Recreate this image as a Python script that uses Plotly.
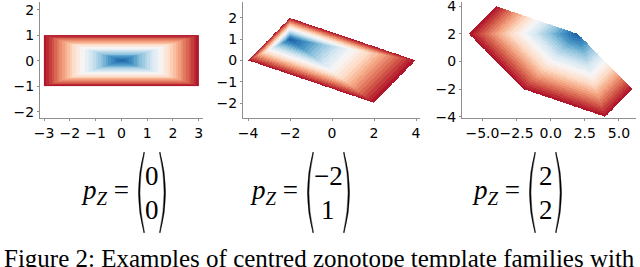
import numpy as np
import plotly.graph_objects as go

# ---- data: polygon vertices (counter-clockwise) and the point p_Z ----
rect_x = [-3, 3, 3, -3]
rect_y = [-1, -1, 1, 1]
p1 = [0, 0]

para_x = [2, 4, -2, -4]
para_y = [-2, 0, 2, 0]
p2 = [-2, 1]

hex_x = [4, 6, 2, -4, -6, -2]
hex_y = [-4, -2, 2, 4, 2, -2]
p3 = [2, 2]

p_labels = [["0", "0"], ["−2", "1"], ["2", "2"]]
caption = "Figure 2: Examples of centred zonotope template families with"

x_ticks = [[-3, -2, -1, 0, 1, 2, 3], [-4, -2, 0, 2, 4], [-5.0, -2.5, 0.0, 2.5, 5.0]]
y_ticks = [[-2, -1, 0, 1, 2], [-2, -1, 0, 1, 2], [-4, -2, 0, 2, 4]]

W, H = 640, 267
N_LEVELS = 30


def gauge_field(vx, vy, p, n=360):
    xs = np.linspace(min(vx), max(vx), n)
    ys = np.linspace(min(vy), max(vy), n)
    X, Y = np.meshgrid(xs, ys)
    inside = np.ones_like(X, dtype=bool)
    t = np.zeros_like(X)
    k = len(vx)
    for i in range(k):
        ax, ay = vx[i], vy[i]
        bx, by = vx[(i + 1) % k], vy[(i + 1) % k]
        nx, ny = (by - ay), -(bx - ax)
        b = nx * ax + ny * ay
        inside &= (nx * X + ny * Y) <= b + 1e-9
        denom = b - (nx * p[0] + ny * p[1])
        if denom > 1e-9:
            t = np.maximum(t, (nx * (X - p[0]) + ny * (Y - p[1])) / denom)
    tq = (np.floor(np.clip(t, 0, 0.99999) * N_LEVELS) + 0.5) / N_LEVELS
    z = np.where(inside, tq, np.nan)
    return xs, ys, z


rdbu = ['#053061', '#2166ac', '#4393c3', '#92c5de', '#d1e5f0', '#f7f7f7',
        '#fddbc7', '#f4a582', '#d6604d', '#b2182b', '#67001f']
cscale = [[i / 10, c] for i, c in enumerate(rdbu)]

fig = go.Figure()
shapes_def = [(rect_x, rect_y, p1), (para_x, para_y, p2), (hex_x, hex_y, p3)]
for i, (vx, vy, p) in enumerate(shapes_def):
    xs, ys, z = gauge_field(vx, vy, p)
    sfx = "" if i == 0 else str(i + 1)
    fig.add_trace(go.Heatmap(x=xs, y=ys, z=z, colorscale=cscale, zmin=-0.1, zmax=1.1,
                             showscale=False, zsmooth=False, hoverinfo="skip",
                             xaxis="x" + sfx, yaxis="y" + sfx))

def px2x(px):
    return px / W

def px2y(py):
    return 1 - py / H

y_dom = [px2y(118), px2y(2)]
x_doms = [[px2x(40), px2x(203)], [px2x(243), px2x(420)], [px2x(462), px2x(636)]]
x_ranges = [[-3.16, 3.17], [-4.24, 4.19], [-6.5, 6.25]]
y_ranges = [[-2.25, 2.3], [-2.7, 2.75], [-4.1, 4.3]]

axis_style = dict(showline=True, linecolor="#8f8f8f", linewidth=1.3, ticks="outside",
                  ticklen=2, tickcolor="#8f8f8f", showgrid=False, zeroline=False,
                  automargin=False, ticklabeloverflow="allow", tickangle=0,
                  tickfont=dict(family="DejaVu Sans", size=14, color="black"), mirror=False)

layout = dict(width=W, height=H, margin=dict(l=0, r=0, t=0, b=0, autoexpand=False),
              paper_bgcolor="white", plot_bgcolor="white", showlegend=False)
for i in range(3):
    sfx = "" if i == 0 else str(i + 1)
    fmt = ".1f" if i == 2 else "d"
    layout["xaxis" + sfx] = dict(domain=x_doms[i], range=x_ranges[i], anchor="y" + sfx,
                                 tickvals=x_ticks[i], tickformat=fmt, **axis_style)
    layout["yaxis" + sfx] = dict(domain=y_dom, range=y_ranges[i], anchor="x" + sfx,
                                 tickvals=y_ticks[i], tickformat="d", **axis_style)
fig.update_layout(**layout)

# ---- equations below the plots ----
serif = "Liberation Serif"
eq_left_end = [131, 300, 522]     # right edge of "p_Z =" text (px)
paren_left = [136, 305, 527]
paren_right = [160, 344, 556]
digit_cx = [152, 328, 546]
yc = 192
annots = []
shapes = []
for i in range(3):
    annots.append(dict(x=px2x(eq_left_end[i]), y=px2y(yc), xref="paper", yref="paper",
                       xanchor="right", yanchor="middle", showarrow=False,
                       text="<i>p</i><sub><i>Z</i></sub> =",
                       font=dict(family=serif, size=27, color="black")))
    for j, dy in enumerate([176, 210]):
        annots.append(dict(x=px2x(digit_cx[i]), y=px2y(dy), xref="paper", yref="paper",
                           xanchor="center", yanchor="middle", showarrow=False,
                           text=p_labels[i][j], font=dict(family=serif, size=27, color="black")))
    top, bot = 152, 233
    mid = (top + bot) / 2
    xl = paren_left[i]
    path_l = (f"M {px2x(xl+8)},{px2y(top)} Q {px2x(xl-3)},{px2y(mid)} {px2x(xl+8)},{px2y(bot)} "
              f"L {px2x(xl+8.4)},{px2y(bot-1)} Q {px2x(xl-0.6)},{px2y(mid)} {px2x(xl+8.4)},{px2y(top+1)} Z")
    xr = paren_right[i]
    path_r = (f"M {px2x(xr)},{px2y(top)} Q {px2x(xr+11)},{px2y(mid)} {px2x(xr)},{px2y(bot)} "
              f"L {px2x(xr-0.4)},{px2y(bot-1)} Q {px2x(xr+8.6)},{px2y(mid)} {px2x(xr-0.4)},{px2y(top+1)} Z")
    for pth in (path_l, path_r):
        shapes.append(dict(type="path", path=pth, xref="paper", yref="paper",
                           fillcolor="black", line=dict(color="black", width=0.5)))

annots.append(dict(x=px2x(2), y=px2y(243), xref="paper", yref="paper", xanchor="left",
                   yanchor="top", showarrow=False, text=caption,
                   font=dict(family=serif, size=25, color="black")))
fig.update_layout(annotations=annots, shapes=shapes)

fig.write_html("out.html", config={"displayModeBar": False},
               post_script="document.body.style.margin='0';document.body.style.overflow='hidden';")
